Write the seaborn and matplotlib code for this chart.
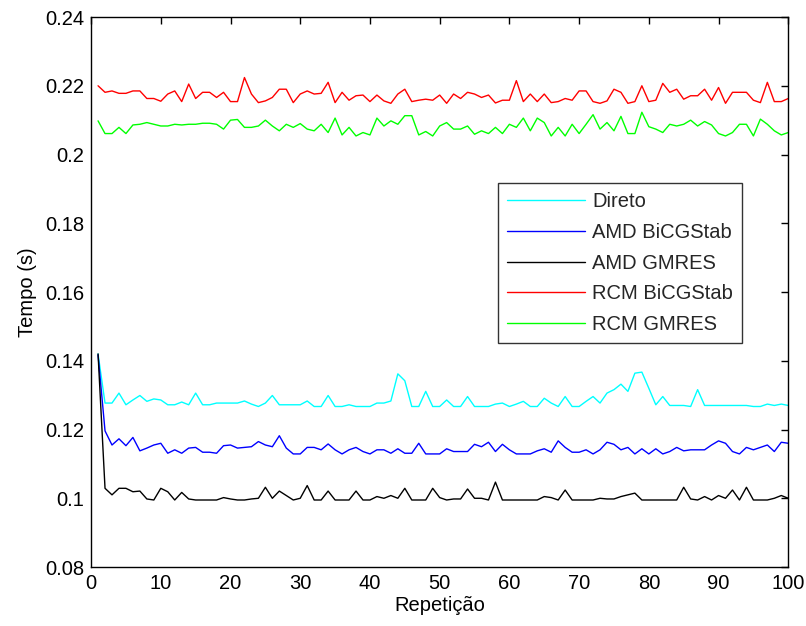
import numpy as np
import pandas as pd
import matplotlib
matplotlib.use("Agg")
import matplotlib.pyplot as plt
import seaborn as sns

repeticao = list(range(1, 101))

direto = [0.1420, 0.1277, 0.1277, 0.1306, 0.1272, 0.1286, 0.1299, 0.1282, 0.1289, 0.1286,
          0.1272, 0.1272, 0.1280, 0.1272, 0.1306, 0.1272, 0.1272, 0.1277, 0.1277, 0.1277,
          0.1277, 0.1283, 0.1274, 0.1267, 0.1277, 0.1299, 0.1272, 0.1272, 0.1272, 0.1272,
          0.1283, 0.1267, 0.1267, 0.1299, 0.1267, 0.1267, 0.1272, 0.1267, 0.1267, 0.1267,
          0.1277, 0.1277, 0.1283, 0.1362, 0.1342, 0.1267, 0.1267, 0.1311, 0.1267, 0.1267,
          0.1286, 0.1267, 0.1267, 0.1296, 0.1267, 0.1267, 0.1267, 0.1274, 0.1277, 0.1267,
          0.1274, 0.1282, 0.1267, 0.1267, 0.1291, 0.1277, 0.1267, 0.1296, 0.1267, 0.1267,
          0.1282, 0.1296, 0.1277, 0.1306, 0.1316, 0.1332, 0.1311, 0.1364, 0.1367, 0.1320,
          0.1272, 0.1296, 0.1270, 0.1270, 0.1270, 0.1267, 0.1316, 0.1270, 0.1270, 0.1270,
          0.1270, 0.1270, 0.1270, 0.1270, 0.1267, 0.1267, 0.1274, 0.1270, 0.1274, 0.1270]

amd_bicgstab = [0.1417, 0.1196, 0.1155, 0.1173, 0.1153, 0.1177, 0.1138, 0.1146, 0.1155, 0.1160,
                0.1131, 0.1141, 0.1131, 0.1146, 0.1148, 0.1134, 0.1134, 0.1131, 0.1153, 0.1155,
                0.1146, 0.1148, 0.1150, 0.1165, 0.1155, 0.1150, 0.1182, 0.1146, 0.1129, 0.1129,
                0.1148, 0.1148, 0.1141, 0.1158, 0.1141, 0.1129, 0.1141, 0.1148, 0.1136, 0.1129,
                0.1141, 0.1141, 0.1131, 0.1144, 0.1131, 0.1131, 0.1160, 0.1129, 0.1129, 0.1129,
                0.1144, 0.1136, 0.1136, 0.1136, 0.1157, 0.1150, 0.1163, 0.1136, 0.1157, 0.1141,
                0.1129, 0.1129, 0.1129, 0.1138, 0.1144, 0.1134, 0.1167, 0.1148, 0.1134, 0.1134,
                0.1141, 0.1129, 0.1141, 0.1163, 0.1157, 0.1141, 0.1148, 0.1129, 0.1144, 0.1129,
                0.1144, 0.1129, 0.1136, 0.1148, 0.1138, 0.1141, 0.1141, 0.1141, 0.1155, 0.1167,
                0.1160, 0.1136, 0.1129, 0.1148, 0.1141, 0.1148, 0.1155, 0.1136, 0.1163, 0.1160]

amd_gmres = [0.1420, 0.1029, 0.1010, 0.1029, 0.1029, 0.1019, 0.1021, 0.0998, 0.0995, 0.1029,
             0.1019, 0.0995, 0.1017, 0.0998, 0.0995, 0.0995, 0.0995, 0.0995, 0.1002, 0.0998,
             0.0995, 0.0995, 0.0998, 0.1000, 0.1032, 0.1000, 0.1021, 0.1008, 0.0995, 0.1000,
             0.1037, 0.0995, 0.0995, 0.1021, 0.0995, 0.0995, 0.0995, 0.1021, 0.0995, 0.0995,
             0.1005, 0.1000, 0.1008, 0.1000, 0.1029, 0.0995, 0.0995, 0.0995, 0.1029, 0.1002,
             0.0995, 0.0998, 0.0998, 0.1027, 0.1000, 0.1000, 0.0995, 0.1047, 0.0995, 0.0995,
             0.0995, 0.0995, 0.0995, 0.0995, 0.1005, 0.1002, 0.0995, 0.1024, 0.0995, 0.0995,
             0.0995, 0.0995, 0.1000, 0.0998, 0.0998, 0.1005, 0.1010, 0.1015, 0.0995, 0.0995,
             0.0995, 0.0995, 0.0995, 0.0995, 0.1032, 0.0998, 0.0995, 0.1005, 0.0995, 0.1008,
             0.1000, 0.1024, 0.0995, 0.1032, 0.0995, 0.0995, 0.0995, 0.1000, 0.1008, 0.1000]

rcm_bicgstab = [0.2200, 0.2181, 0.2185, 0.2178, 0.2178, 0.2185, 0.2185, 0.2163, 0.2163, 0.2155,
                0.2176, 0.2185, 0.2154, 0.2205, 0.2163, 0.2181, 0.2181, 0.2166, 0.2181, 0.2154,
                0.2154, 0.2224, 0.2176, 0.2151, 0.2156, 0.2166, 0.2190, 0.2190, 0.2151, 0.2176,
                0.2185, 0.2176, 0.2178, 0.2210, 0.2151, 0.2181, 0.2158, 0.2171, 0.2173, 0.2154,
                0.2173, 0.2156, 0.2149, 0.2176, 0.2190, 0.2154, 0.2158, 0.2161, 0.2158, 0.2173,
                0.2149, 0.2176, 0.2163, 0.2181, 0.2176, 0.2166, 0.2173, 0.2150, 0.2158, 0.2158,
                0.2215, 0.2154, 0.2176, 0.2154, 0.2176, 0.2151, 0.2154, 0.2163, 0.2158, 0.2185,
                0.2185, 0.2154, 0.2149, 0.2156, 0.2190, 0.2181, 0.2149, 0.2154, 0.2200, 0.2154,
                0.2158, 0.2207, 0.2181, 0.2190, 0.2161, 0.2171, 0.2171, 0.2190, 0.2158, 0.2195,
                0.2149, 0.2181, 0.2181, 0.2181, 0.2158, 0.2151, 0.2210, 0.2154, 0.2154, 0.2163]

rcm_gmres = [0.2098, 0.2061, 0.2061, 0.2079, 0.2061, 0.2086, 0.2088, 0.2093, 0.2088, 0.2083,
             0.2083, 0.2088, 0.2086, 0.2088, 0.2088, 0.2091, 0.2091, 0.2088, 0.2074, 0.2100,
             0.2102, 0.2079, 0.2079, 0.2083, 0.2100, 0.2083, 0.2069, 0.2088, 0.2079, 0.2090,
             0.2074, 0.2069, 0.2088, 0.2064, 0.2106, 0.2057, 0.2079, 0.2054, 0.2064, 0.2057,
             0.2106, 0.2083, 0.2098, 0.2088, 0.2113, 0.2113, 0.2057, 0.2067, 0.2054, 0.2083,
             0.2093, 0.2074, 0.2074, 0.2083, 0.2059, 0.2069, 0.2061, 0.2079, 0.2061, 0.2088,
             0.2079, 0.2106, 0.2069, 0.2106, 0.2093, 0.2054, 0.2079, 0.2054, 0.2088, 0.2061,
             0.2088, 0.2116, 0.2074, 0.2093, 0.2069, 0.2111, 0.2061, 0.2061, 0.2123, 0.2081,
             0.2074, 0.2064, 0.2088, 0.2083, 0.2088, 0.2100, 0.2083, 0.2096, 0.2086, 0.2061,
             0.2054, 0.2064, 0.2088, 0.2088, 0.2054, 0.2103, 0.2088, 0.2069, 0.2057, 0.2064]

series_names = ["Direto", "AMD BiCGStab", "AMD GMRES", "RCM BiCGStab", "RCM GMRES"]
series_values = [direto, amd_bicgstab, amd_gmres, rcm_bicgstab, rcm_gmres]
colors = ["#00FFFF", "#0000FF", "#000000", "#FF0000", "#00FF00"]

x_ticks = list(range(0, 101, 10))
y_ticks = [0.08, 0.1, 0.12, 0.14, 0.16, 0.18, 0.2, 0.22, 0.24]
y_tick_labels = ["0.08", "0.1", "0.12", "0.14", "0.16", "0.18", "0.2", "0.22", "0.24"]

df = pd.concat([pd.DataFrame({"Repetição": repeticao, "Tempo": v, "Série": n})
                for n, v in zip(series_names, series_values)], ignore_index=True)

sns.set_theme(style="white")
plt.rcParams["font.family"] = ["Liberation Sans", "DejaVu Sans"]

fig = plt.figure(figsize=(8.06, 6.26), dpi=100)
ax = fig.add_axes([0.113, 0.0942, 0.865, 0.8786])

sns.lineplot(data=df, x="Repetição", y="Tempo", hue="Série", hue_order=series_names,
             palette=dict(zip(series_names, colors)), linewidth=1.0, ax=ax)

ax.set_xlim(0, 100)
ax.set_ylim(0.08, 0.24)
ax.set_xticks(x_ticks)
ax.set_xticklabels([str(t) for t in x_ticks])
ax.set_yticks(y_ticks)
ax.set_yticklabels(y_tick_labels)
ax.tick_params(direction="in", length=5, width=1, top=True, right=True,
               labelsize=14.5, colors="black", pad=5)
for s in ax.spines.values():
    s.set_color("black")
    s.set_linewidth(1.0)
ax.set_xlabel("Repetição", fontsize=14.5, color="black", labelpad=2)
ax.set_ylabel("Tempo (s)", fontsize=14.5, color="black", labelpad=6)
ax.grid(False)

leg = ax.legend(loc="upper left", bbox_to_anchor=(0.583, 0.698), fontsize=14.5,
                frameon=True, fancybox=False, edgecolor="black", handlelength=3.9,
                borderpad=0.45, labelspacing=0.58, handletextpad=0.35, borderaxespad=0)
leg.get_frame().set_linewidth(1.0)
leg.set_title(None)

fig.savefig("out.png", dpi=100, facecolor="white")
